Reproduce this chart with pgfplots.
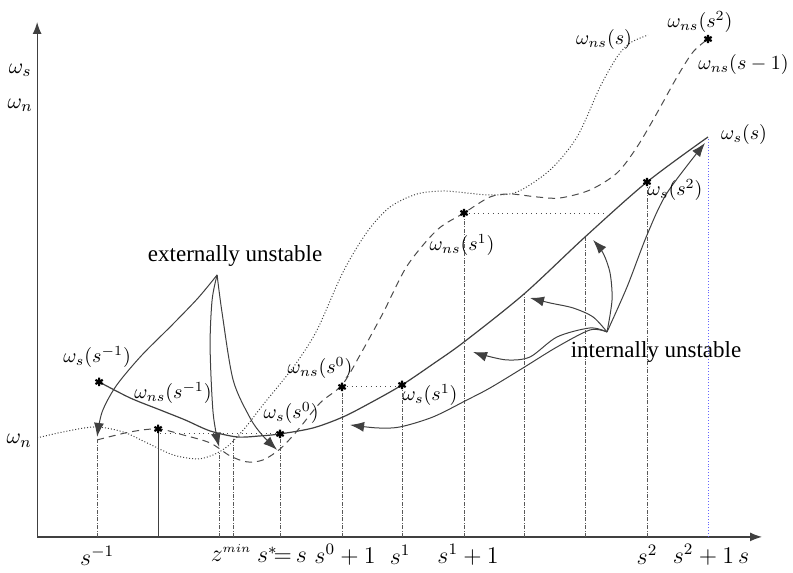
\documentclass[border=0pt]{standalone}
\usepackage{fontspec}
\setmainfont{Liberation Serif}
\usepackage{pgfplots}
\pgfplotsset{compat=1.18}
\usetikzlibrary{arrows.meta}
\begin{document}
\begin{tikzpicture}
\begin{axis}[
  width=396.5pt, height=285pt, scale only axis,
  xmin=0, xmax=793, ymin=0, ymax=570, y dir=reverse,
  enlargelimits=false, hide axis, clip=false,
]
% bounding frame (invisible)
\path (axis cs:0,0) rectangle (axis cs:793,570);
% axes
\draw[line width=0.6pt, black!75, -{Latex[length=6pt,width=4.5pt]}] (axis cs:37,537) -- (axis cs:37,22);
\draw[line width=0.6pt, black!75, -{Latex[length=6pt,width=4.5pt]}] (axis cs:37,537) -- (axis cs:762,537);

% vertical guide lines
\pgfplotsset{vl/.style={black!65, line width=0.35pt, dash pattern=on 2pt off 0.7pt on 0.5pt off 0.7pt}}
\addplot[vl] coordinates {(97,537) (97,440)};
\addplot[black!75, line width=0.4pt] coordinates {(158,537) (158,429)};
\addplot[vl] coordinates {(219,537) (219,452)};
\addplot[vl] coordinates {(233,537) (233,438)};
\addplot[vl] coordinates {(280,537) (280,434)};
\addplot[vl] coordinates {(342,537) (342,387)};
\addplot[vl] coordinates {(402,537) (402,385)};
\addplot[vl] coordinates {(464,537) (464,213)};
\addplot[vl] coordinates {(524,537) (524,294)};
\addplot[vl] coordinates {(585,537) (585,237)};
\addplot[vl] coordinates {(647,537) (647,182)};
\addplot[blue!60, line width=0.45pt, densely dotted] coordinates {(708,537) (708,137)};

% horizontal dotted connectors
\addplot[black!70, line width=0.4pt, dotted] coordinates {(160,433) (280,433)};
\addplot[black!70, line width=0.4pt, dotted] coordinates {(342,386) (402,386)};
\addplot[black!70, line width=0.4pt, dotted] coordinates {(464,213) (605,213)};

% omega_ns(s) dotted curve
\addplot[black!75, line width=0.5pt, densely dotted, smooth] coordinates {
(37,438) (63,432) (95,427) (123,432) (147,443) (173,455) (197,459) (213,455)
(228,446) (245,428) (262,406) (280,384) (297,362) (317,330) (343,272) (367,232)
(390,207) (417,194) (443,191) (467,193) (490,195) (517,192) (550,170) (577,137)
(600,87) (617,57) (630,43) (648,35)};

% omega_ns(s-1) dashed curve
\addplot[black!70, line width=0.5pt, dash pattern=on 3.5pt off 2.5pt, smooth] coordinates {
(97,440) (130,432) (158,429) (183,435) (210,443) (230,456) (247,462) (263,460)
(280,449) (297,431) (320,403) (342,385) (360,355) (383,313) (407,266) (437,230)
(464,213) (490,197) (510,194) (537,197) (560,198) (590,190) (617,173) (637,147)
(657,113) (677,77) (693,52) (708,39)};

% omega_s(s) solid curve
\addplot[black!75, line width=0.6pt, smooth] coordinates {
(99,382) (130,398) (160,410) (185,420) (210,431) (237,437) (260,436) (280,434)
(313,428) (343,417) (372,402) (402,385) (433,364) (464,342) (524,294) (585,237)
(647,182) (708,137)};

% stars
\addplot[only marks, mark=asterisk, mark size=2.1pt, line width=1.1pt, black] coordinates {
(99,382) (158,429) (280,434) (342,387) (402,385) (464,213) (647,182) (708,39)};

% externally unstable arrows
\pgfplotsset{ar/.style={black!75, line width=0.5pt, smooth, -{Latex[length=7pt,width=5pt]}}}
\addplot[ar] coordinates {(217,275) (198,298) (172,325) (141,356) (116,386) (102,412) (97,437)};
\addplot[ar] coordinates {(217,275) (212,300) (210,347) (213,413) (219,447)};
\addplot[ar] coordinates {(217,275) (222,313) (233,380) (250,418) (262,435) (277,450)};

% internally unstable arrows
\addplot[ar] coordinates {(607,332) (627,287) (647,235) (667,193) (705,143)};
\addplot[ar] coordinates {(607,332) (612,300) (610,273) (603,253) (593,240)};
\addplot[ar] coordinates {(607,332) (593,317) (573,308) (550,303) (530,298)};
\addplot[ar] coordinates {(607,332) (590,328) (557,337) (530,357) (507,360) (483,355) (473,352)};
\addplot[ar] coordinates {(607,332) (590,330) (557,347) (523,368) (490,388) (467,400) (433,417) (400,427) (377,428) (350,425)};

% texts
\node[font=\fontsize{11.5}{13}\selectfont] at (axis cs:235,256) {externally unstable};
\node[font=\fontsize{11.5}{13}\selectfont] at (axis cs:656,352) {internally unstable};

% y labels
\node[font=\fontsize{11}{13}\selectfont] at (axis cs:20,70) {$\omega_s$};
\node[font=\fontsize{11}{13}\selectfont] at (axis cs:20,105) {$\omega_n$};
\node[font=\fontsize{11}{13}\selectfont] at (axis cs:19,441) {$\omega_n$};

% x labels
\node[font=\fontsize{11.5}{13}\selectfont] at (axis cs:97,556) {$s^{-1}$};
\node[font=\fontsize{11.5}{13}\selectfont] at (axis cs:231,553) {$z^{\scriptscriptstyle min}$};
\node[font=\fontsize{11.5}{13}\selectfont] at (axis cs:282,555) {$s^{\ast}\!{=}\,s$};
\node[font=\fontsize{11.5}{13}\selectfont] at (axis cs:345,555) {$s^{0}+1$};
\node[font=\fontsize{11.5}{13}\selectfont] at (axis cs:400,555) {$s^{1}$};
\node[font=\fontsize{11.5}{13}\selectfont] at (axis cs:468,555) {$s^{1}+1$};
\node[font=\fontsize{11.5}{13}\selectfont] at (axis cs:647,555) {$s^{2}$};
\node[font=\fontsize{11.5}{13}\selectfont] at (axis cs:711,555) {$s^{2}+1\,s$};

% curve labels
\node[font=\fontsize{10}{12}\selectfont] at (axis cs:604,40) {$\omega_{ns}(s)$};
\node[font=\fontsize{10}{12}\selectfont] at (axis cs:700,22) {$\omega_{ns}(s^{2})$};
\node[font=\fontsize{10}{12}\selectfont, anchor=east, inner sep=1pt] at (axis cs:791,65) {$\omega_{ns}(s-1)$};
\node[font=\fontsize{10}{12}\selectfont] at (axis cs:744,135) {$\omega_{s}(s)$};
\node[font=\fontsize{10}{12}\selectfont] at (axis cs:675,190) {$\omega_{s}(s^{2})$};
\node[font=\fontsize{10}{12}\selectfont] at (axis cs:462,245) {$\omega_{ns}(s^{1})$};
\node[font=\fontsize{10}{12}\selectfont] at (axis cs:430,395) {$\omega_{s}(s^{1})$};
\node[font=\fontsize{10}{12}\selectfont] at (axis cs:320,368) {$\omega_{ns}(s^{0})$};
\node[font=\fontsize{10}{12}\selectfont] at (axis cs:291,413) {$\omega_{s}(s^{0})$};
\node[font=\fontsize{10}{12}\selectfont] at (axis cs:173,393) {$\omega_{ns}(s^{-1})$};
\node[font=\fontsize{10}{12}\selectfont] at (axis cs:97,357) {$\omega_{s}(s^{-1})$};
\end{axis}
\end{tikzpicture}
\end{document}
